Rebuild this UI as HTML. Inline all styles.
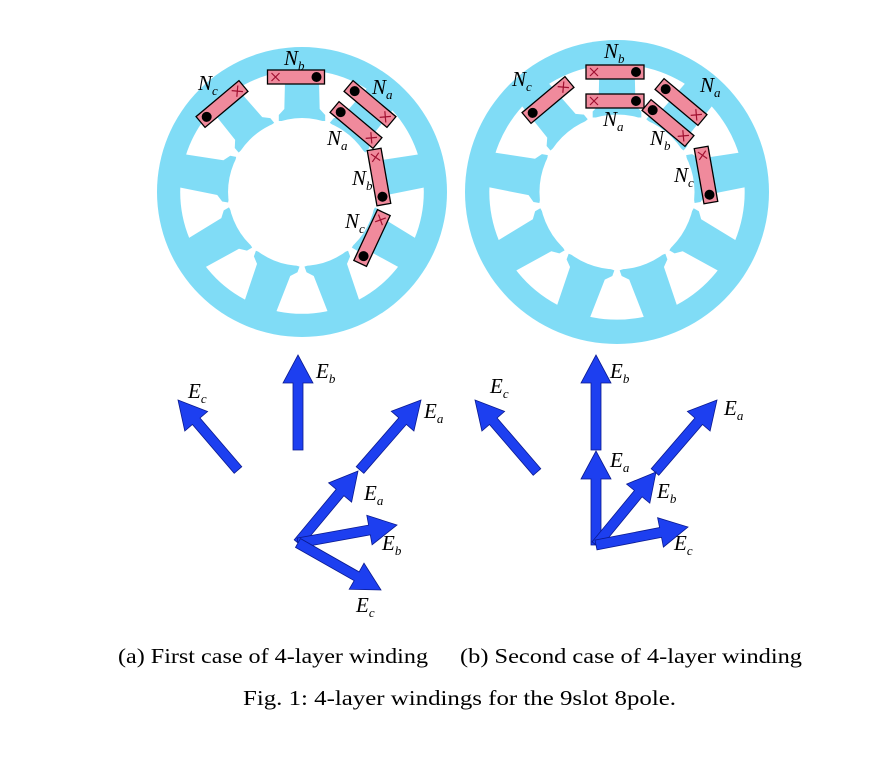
<!DOCTYPE html>
<html><head><meta charset="utf-8"><style>
html,body{margin:0;padding:0;background:#fff;}
svg{display:block}
.l{font-family:"Liberation Serif",serif;font-style:italic;font-size:21px;fill:#000}
.s{font-size:13px}
.c{font-family:"Liberation Serif",serif;font-size:21px;fill:#000}
</style></head><body>
<svg id="s" width="886" height="761" viewBox="0 0 886 761" xmlns="http://www.w3.org/2000/svg">
<g id="g"></g>
<text class="c" x="118" y="663" textLength="310" lengthAdjust="spacingAndGlyphs">(a) First case of 4-layer winding</text>
<text class="c" x="460" y="663" textLength="342" lengthAdjust="spacingAndGlyphs">(b) Second case of 4-layer winding</text>
<text class="c" x="243" y="705" textLength="433" lengthAdjust="spacingAndGlyphs">Fig. 1:  4-layer windings for the 9slot 8pole.</text>
</svg>
<script>
var g=document.getElementById('g'),h='';
var B='#80dcf6';
function motor(cx,cy,R){
 var ri=R*0.84, rb=R*0.51;
 h+='<circle cx="'+cx+'" cy="'+cy+'" r="'+R+'" fill="'+B+'"/>';
 h+='<circle cx="'+cx+'" cy="'+cy+'" r="'+ri+'" fill="#fff"/>';
 for(var k=0;k<9;k++){
  var a=-90+k*40;
  var w=R*0.115,t=R*0.16;
  h+='<g transform="translate('+cx+','+cy+') rotate('+(a+90)+')">';
  h+='<polygon points="'+(-w)+','+(-ri-3)+' '+w+','+(-ri-3)+' '+(w+1)+','+(-rb-9)+' '+t+','+(-rb-3)+' '+t+','+(-rb+3)+' '+(-t)+','+(-rb+3)+' '+(-t)+','+(-rb-3)+' '+(-w-1)+','+(-rb-9)+'" fill="'+B+'"/></g>';
 }
 h+='<circle cx="'+cx+'" cy="'+cy+'" r="'+rb+'" fill="#fff"/>';
}
function coil(x,y,ang,dotRight,L){
 L=L||58;var W=14;
 h+='<g transform="translate('+x+','+y+') rotate('+ang+')">';
 h+='<rect x="'+(-L/2)+'" y="'+(-W/2)+'" width="'+L+'" height="'+W+'" fill="#f08a9c" stroke="#000" stroke-width="1.3"/>';
 var dx=dotRight?L/2-8:-L/2+8, xx=-dx;
 h+='<circle cx="'+dx+'" cy="0" r="5" fill="#000"/>';
 h+='<path d="M'+(xx-4)+',-4 L'+(xx+4)+',4 M'+(xx-4)+',4 L'+(xx+4)+',-4" stroke="#a01030" stroke-width="1.2"/>';
 h+='</g>';
}
function lab(x,y,N,sub){
 h+='<text class="l" x="'+x+'" y="'+y+'">'+N+'<tspan class="s" dy="5">'+sub+'</tspan></text>';
}
function arrow(x1,y1,x2,y2,sw,hw,hl){
 sw=sw||10;hw=hw||30;hl=hl||28;
 var dx=x2-x1,dy=y2-y1,L=Math.hypot(dx,dy),ux=dx/L,uy=dy/L,px=-uy,py=ux;
 var bx=x2-ux*hl,by=y2-uy*hl;
 function p(x,y){return x.toFixed(1)+','+y.toFixed(1)+' ';}
 var pts=p(x1+px*sw/2,y1+py*sw/2)+p(bx+px*sw/2,by+py*sw/2)+p(bx+px*hw/2,by+py*hw/2)+p(x2,y2)+p(bx-px*hw/2,by-py*hw/2)+p(bx-px*sw/2,by-py*sw/2)+p(x1-px*sw/2,y1-py*sw/2);
 h+='<polygon points="'+pts+'" fill="#1d3ff0" stroke="#0a1a90" stroke-width="0.8"/>';
}
motor(302,192,145);
motor(617,192,152);
coil(296,77,0,true,57);
coil(222,104,-40,false,56);
coil(370,104,40,false,56);
coil(356,125,40,false,56);
coil(379,177,80,true,56);
coil(372,238,-65,false,56);
lab(284,65,'N','b');lab(198,90,'N','c');lab(372,94,'N','a');lab(327,145,'N','a');lab(352,185,'N','b');lab(345,228,'N','c');
coil(615,72,0,true,58);
coil(615,101,0,true,58);
coil(548,100,-40,false,56);
coil(681,102,40,false,56);
coil(668,123,40,false,56);
coil(706,175,80,true,56);
lab(604,58,'N','b');lab(512,86,'N','c');lab(700,92,'N','a');lab(603,126,'N','a');lab(650,145,'N','b');lab(674,182,'N','c');
arrow(298,450,298,355);
arrow(238,470,178,400);
arrow(360,470,421,400);
arrow(298,543,358,471);
arrow(298,543,397,525);
arrow(298,543,381,590);
lab(316,378,'E','b');lab(188,398,'E','c');lab(424,418,'E','a');lab(364,500,'E','a');lab(382,550,'E','b');lab(356,612,'E','c');
arrow(596,450,596,355);
arrow(537,472,475,400);
arrow(655,472,717,400);
arrow(596,545,596,451);
arrow(596,545,656,472);
arrow(596,545,688,527);
lab(610,378,'E','b');lab(490,393,'E','c');lab(724,415,'E','a');lab(610,467,'E','a');lab(657,498,'E','b');lab(674,550,'E','c');
g.innerHTML=h;
</script>
</body></html>
